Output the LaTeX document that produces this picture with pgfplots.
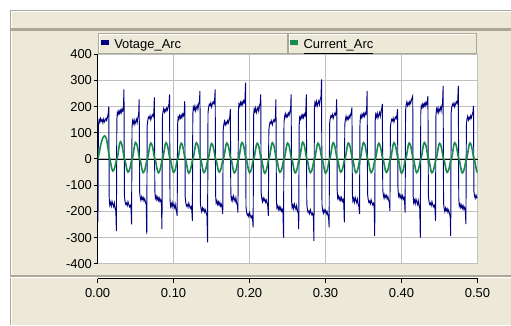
\documentclass[border=0pt]{standalone}
\usepackage{fontspec}
\setmainfont{Liberation Sans}
\usepackage{pgfplots}
\pgfplotsset{compat=1.18}
\definecolor{panel}{HTML}{ECE9D8}
\definecolor{edge}{HTML}{ACA899}
\definecolor{vcol}{HTML}{000080}
\definecolor{icol}{HTML}{178C4C}
\definecolor{gridc}{HTML}{C0C0C0}
\newcommand{\tickfont}{\fontsize{13}{13}\selectfont}
\newcommand{\legfont}{\fontsize{13}{13}\selectfont}
\begin{document}
\begin{tikzpicture}
% background panels
\fill[white] (-97.7bp,-61bp) rectangle (413.3bp,264bp);
\fill[panel] (-87.7bp,-61bp) rectangle (413.3bp,254bp);
\draw[edge, line width=1bp] (-87.2bp,-61bp) -- (-87.2bp,253.5bp) -- (413.3bp,253.5bp);
\draw[white, line width=1bp] (-86.2bp,-61bp) -- (-86.2bp,252.5bp) -- (413.3bp,252.5bp);
\fill[edge] (-87.7bp,233bp) rectangle (413.3bp,235.5bp);
\fill[edge] (-87.7bp,-11bp) rectangle (413.3bp,-13.5bp);
\draw[white, line width=0.8bp] (-87.7bp,-14bp) -- (413.3bp,-14bp);
% legend boxes
\fill[panel] (1bp,210.7bp) rectangle (189.6bp,230.7bp);
\draw[edge, line width=1bp] (1bp,210.7bp) rectangle (189.6bp,230.7bp);
\draw[white, line width=0.8bp] (2bp,211.7bp) -- (2bp,229.7bp) -- (188.6bp,229.7bp);
\fill[panel] (190.6bp,210.7bp) rectangle (379bp,230.7bp);
\draw[edge, line width=1bp] (190.6bp,210.7bp) rectangle (379bp,230.7bp);
\draw[white, line width=0.8bp] (191.6bp,211.7bp) -- (191.6bp,229.7bp) -- (378bp,229.7bp);
\fill[vcol] (3.5bp,218.5bp) rectangle (11.5bp,224bp);
\fill[icol] (193bp,218.5bp) rectangle (201bp,224bp);
\node[anchor=base west, inner sep=0pt, font=\legfont] at (16.5bp,215bp) {Votage\_Arc};
\node[anchor=base west, inner sep=0pt, font=\legfont] at (206bp,215bp) {\underline{Current\_Arc}};
% main axis
\begin{axis}[
  scale only axis, width=380.3bp, height=209.7bp,
  xmin=0, xmax=0.5, ymin=-400, ymax=400,
  axis background/.style={fill=white},
  axis lines=left,
  axis line style={-},
  x axis line style={draw=none},
  y axis line style={black, line width=1.5bp},
  xtick={0,0.1,0.2,0.3,0.4,0.5}, xticklabels={},
  xtick style={draw=none},
  ytick={-400,-300,-200,-100,0,100,200,300,400},
  yticklabels={-400,-300,-200,-100,0,100,200,300,400},
  ytick style={black, line width=1bp},
  tick align=outside, major tick length=4bp,
  yticklabel style={font=\tickfont, anchor=east, inner sep=0pt, xshift=-1.5bp},
  grid=major, major grid style={gridc, line width=1.2bp},
  extra y ticks={0}, extra y tick labels={},
  extra y tick style={grid=major, major grid style={black, line width=0.9bp}, ytick style={draw=none}},
  clip=true,
]
\addplot[vcol, line width=0.95bp] coordinates {
(0,0) (0.0005,-240) (0.001,130) (0.002,150) (0.003,140) (0.004,155) (0.005,145) (0.006,150) (0.007,138) (0.008,152) (0.009,142) (0.010,148) (0.011,155) (0.012,147) (0.013,160) (0.014,175) (0.0147,200)
(0.0153,-150) (0.016,-176) (0.017,-166) (0.018,-180) (0.019,-162) (0.020,-173) (0.021,-182) (0.022,-168) (0.023,-188) (0.024,-198) (0.0247,-275)
(0.0253,148) (0.026,178) (0.027,170) (0.028,184) (0.029,174) (0.030,186) (0.031,176) (0.032,190) (0.033,183) (0.034,198) (0.0347,266)
(0.0353,-140) (0.036,-160) (0.037,-173) (0.038,-168) (0.039,-178) (0.040,-163) (0.041,-174) (0.042,-182) (0.043,-176) (0.044,-190) (0.0447,-250)
(0.0453,120) (0.046,146) (0.047,136) (0.048,150) (0.049,132) (0.050,143) (0.051,152) (0.052,138) (0.053,158) (0.054,168) (0.0547,228)
(0.0553,-125) (0.056,-145) (0.057,-158) (0.058,-144) (0.059,-154) (0.060,-147) (0.061,-160) (0.062,-152) (0.063,-165) (0.064,-175) (0.0647,-287)
(0.0653,127) (0.066,147) (0.067,160) (0.068,155) (0.069,165) (0.070,150) (0.071,161) (0.072,169) (0.073,163) (0.074,177) (0.0747,235)
(0.0753,-120) (0.076,-150) (0.077,-142) (0.078,-156) (0.079,-146) (0.080,-158) (0.081,-148) (0.082,-162) (0.083,-155) (0.084,-170) (0.0847,-268)
(0.0853,160) (0.086,180) (0.087,193) (0.088,179) (0.089,189) (0.090,182) (0.091,195) (0.092,187) (0.093,200) (0.094,210) (0.0947,247)
(0.0953,-154) (0.096,-180) (0.097,-170) (0.098,-184) (0.099,-166) (0.100,-177) (0.101,-186) (0.102,-172) (0.103,-192) (0.104,-202) (0.1047,-217)
(0.1053,130) (0.106,160) (0.107,152) (0.108,166) (0.109,156) (0.110,168) (0.111,158) (0.112,172) (0.113,165) (0.114,180) (0.1147,221)
(0.1153,-146) (0.116,-166) (0.117,-179) (0.118,-174) (0.119,-184) (0.120,-169) (0.121,-180) (0.122,-188) (0.123,-182) (0.124,-196) (0.1247,-236)
(0.1253,172) (0.126,198) (0.127,188) (0.128,202) (0.129,184) (0.130,195) (0.131,204) (0.132,190) (0.133,210) (0.134,220) (0.1347,259)
(0.1353,-168) (0.136,-188) (0.137,-201) (0.138,-187) (0.139,-197) (0.140,-190) (0.141,-203) (0.142,-195) (0.143,-208) (0.144,-218) (0.1447,-318)
(0.1453,176) (0.146,196) (0.147,209) (0.148,204) (0.149,214) (0.150,199) (0.151,210) (0.152,218) (0.153,212) (0.154,226) (0.1547,266)
(0.1553,-138) (0.156,-168) (0.157,-160) (0.158,-174) (0.159,-164) (0.160,-176) (0.161,-166) (0.162,-180) (0.163,-173) (0.164,-188) (0.1647,-210)
(0.1653,111) (0.166,131) (0.167,144) (0.168,130) (0.169,140) (0.170,133) (0.171,146) (0.172,138) (0.173,151) (0.174,161) (0.1747,190)
(0.1753,-130) (0.176,-156) (0.177,-146) (0.178,-160) (0.179,-142) (0.180,-153) (0.181,-162) (0.182,-148) (0.183,-168) (0.184,-178) (0.1847,-205)
(0.1853,180) (0.186,210) (0.187,202) (0.188,216) (0.189,206) (0.190,218) (0.191,208) (0.192,222) (0.193,215) (0.194,230) (0.1947,292)
(0.1953,-182) (0.196,-202) (0.197,-215) (0.198,-210) (0.199,-220) (0.200,-205) (0.201,-216) (0.202,-224) (0.203,-218) (0.204,-232) (0.2047,-261)
(0.2053,165) (0.206,191) (0.207,181) (0.208,195) (0.209,177) (0.210,188) (0.211,197) (0.212,183) (0.213,203) (0.214,213) (0.2147,247)
(0.2153,-130) (0.216,-150) (0.217,-163) (0.218,-149) (0.219,-159) (0.220,-152) (0.221,-165) (0.222,-157) (0.223,-170) (0.224,-180) (0.2247,-217)
(0.2253,108) (0.226,128) (0.227,141) (0.228,136) (0.229,146) (0.230,131) (0.231,142) (0.232,150) (0.233,144) (0.234,158) (0.2347,228)
(0.2353,-157) (0.236,-187) (0.237,-179) (0.238,-193) (0.239,-183) (0.240,-195) (0.241,-185) (0.242,-199) (0.243,-192) (0.244,-207) (0.2447,-300)
(0.2453,140) (0.246,160) (0.247,173) (0.248,159) (0.249,169) (0.250,162) (0.251,175) (0.252,167) (0.253,180) (0.254,190) (0.2547,247)
(0.2553,-160) (0.256,-186) (0.257,-176) (0.258,-190) (0.259,-172) (0.260,-183) (0.261,-192) (0.262,-178) (0.263,-198) (0.264,-208) (0.2647,-268)
(0.2653,130) (0.266,160) (0.267,152) (0.268,166) (0.269,156) (0.270,168) (0.271,158) (0.272,172) (0.273,165) (0.274,180) (0.2747,247)
(0.2753,-171) (0.276,-191) (0.277,-204) (0.278,-199) (0.279,-209) (0.280,-194) (0.281,-205) (0.282,-213) (0.283,-207) (0.284,-221) (0.2847,-313)
(0.2853,190) (0.286,216) (0.287,206) (0.288,220) (0.289,202) (0.290,213) (0.291,222) (0.292,208) (0.293,228) (0.294,238) (0.2947,304)
(0.2953,-174) (0.296,-194) (0.297,-207) (0.298,-193) (0.299,-203) (0.300,-196) (0.301,-209) (0.302,-201) (0.303,-214) (0.304,-224) (0.3047,-261)
(0.3053,132) (0.306,152) (0.307,165) (0.308,160) (0.309,170) (0.310,155) (0.311,166) (0.312,174) (0.313,168) (0.314,182) (0.3147,228)
(0.3153,-120) (0.316,-150) (0.317,-142) (0.318,-156) (0.319,-146) (0.320,-158) (0.321,-148) (0.322,-162) (0.323,-155) (0.324,-170) (0.3247,-242)
(0.3253,130) (0.326,150) (0.327,163) (0.328,149) (0.329,159) (0.330,152) (0.331,165) (0.332,157) (0.333,170) (0.334,180) (0.3347,197)
(0.3353,-135) (0.336,-161) (0.337,-151) (0.338,-165) (0.339,-147) (0.340,-158) (0.341,-167) (0.342,-153) (0.343,-173) (0.344,-183) (0.3447,-210)
(0.3453,135) (0.346,165) (0.347,157) (0.348,171) (0.349,161) (0.350,173) (0.351,163) (0.352,177) (0.353,170) (0.354,185) (0.3547,259)
(0.3553,-133) (0.356,-153) (0.357,-166) (0.358,-161) (0.359,-171) (0.360,-156) (0.361,-167) (0.362,-175) (0.363,-169) (0.364,-183) (0.3647,-294)
(0.3653,145) (0.366,171) (0.367,161) (0.368,175) (0.369,157) (0.370,168) (0.371,177) (0.372,163) (0.373,183) (0.374,193) (0.3747,210)
(0.3753,-117) (0.376,-137) (0.377,-150) (0.378,-136) (0.379,-146) (0.380,-139) (0.381,-152) (0.382,-144) (0.383,-157) (0.384,-167) (0.3847,-198)
(0.3853,118) (0.386,138) (0.387,151) (0.388,146) (0.389,156) (0.390,141) (0.391,152) (0.392,160) (0.393,154) (0.394,168) (0.3947,190)
(0.3953,-112) (0.396,-142) (0.397,-134) (0.398,-148) (0.399,-138) (0.400,-150) (0.401,-140) (0.402,-154) (0.403,-147) (0.404,-162) (0.4047,-205)
(0.4053,185) (0.406,205) (0.407,218) (0.408,204) (0.409,214) (0.410,207) (0.411,220) (0.412,212) (0.413,225) (0.414,235) (0.4147,241)
(0.4153,-141) (0.416,-167) (0.417,-157) (0.418,-171) (0.419,-153) (0.420,-164) (0.421,-173) (0.422,-159) (0.423,-179) (0.424,-189) (0.4247,-300)
(0.4253,174) (0.426,204) (0.427,196) (0.428,210) (0.429,200) (0.430,212) (0.431,202) (0.432,216) (0.433,209) (0.434,224) (0.4347,240)
(0.4353,-140) (0.436,-160) (0.437,-173) (0.438,-168) (0.439,-178) (0.440,-163) (0.441,-174) (0.442,-182) (0.443,-176) (0.444,-190) (0.4447,-236)
(0.4453,165) (0.446,191) (0.447,181) (0.448,195) (0.449,177) (0.450,188) (0.451,197) (0.452,183) (0.453,203) (0.454,213) (0.4547,279)
(0.4553,-168) (0.456,-188) (0.457,-201) (0.458,-187) (0.459,-197) (0.460,-190) (0.461,-203) (0.462,-195) (0.463,-208) (0.464,-218) (0.4647,-294)
(0.4653,176) (0.466,196) (0.467,209) (0.468,204) (0.469,214) (0.470,199) (0.471,210) (0.472,218) (0.473,212) (0.474,226) (0.4747,279)
(0.4753,-150) (0.476,-180) (0.477,-172) (0.478,-186) (0.479,-176) (0.480,-188) (0.481,-178) (0.482,-192) (0.483,-185) (0.484,-200) (0.4847,-249)
(0.4853,130) (0.486,150) (0.487,163) (0.488,149) (0.489,159) (0.490,152) (0.491,165) (0.492,157) (0.493,170) (0.494,180) (0.4947,203)
(0.4953,-125) (0.496,-140) (0.497,-150) (0.498,-138) (0.499,-148) (0.500,-145)
};
\addplot[icol, line width=1.6bp] coordinates {
(0.000,0) (0.001,8) (0.002,22) (0.003,38) (0.004,52) (0.005,64) (0.006,74) (0.007,81) (0.008,86) (0.009,88) (0.010,87) (0.011,82) (0.012,72) (0.013,56) (0.014,36) (0.015,14) (0.016,2) (0.017,-12) (0.018,-28) (0.019,-40)
(0.020,-46) (0.021,-44) (0.022,-38) (0.023,-28) (0.024,-14) (0.025,-2) (0.026,4) (0.027,22) (0.028,42) (0.029,59) (0.030,66) (0.031,63) (0.032,54) (0.033,40) (0.034,20) (0.035,3) (0.036,-3) (0.037,-17) (0.038,-33) (0.039,-45)
(0.040,-50) (0.041,-48) (0.042,-41) (0.043,-30) (0.044,-15) (0.045,-2) (0.046,4) (0.047,21) (0.048,40) (0.049,57) (0.050,63) (0.051,60) (0.052,52) (0.053,38) (0.054,19) (0.055,3) (0.056,-3) (0.057,-17) (0.058,-34) (0.059,-47)
(0.060,-52) (0.061,-49) (0.062,-43) (0.063,-31) (0.064,-16) (0.065,-2) (0.066,4) (0.067,20) (0.068,38) (0.069,55) (0.070,61) (0.071,58) (0.072,50) (0.073,37) (0.074,18) (0.075,3) (0.076,-3) (0.077,-17) (0.078,-34) (0.079,-48)
(0.080,-53) (0.081,-50) (0.082,-43) (0.083,-32) (0.084,-16) (0.085,-2) (0.086,4) (0.087,20) (0.088,39) (0.089,56) (0.090,62) (0.091,59) (0.092,51) (0.093,37) (0.094,19) (0.095,3) (0.096,-3) (0.097,-17) (0.098,-33) (0.099,-46)
(0.100,-51) (0.101,-48) (0.102,-42) (0.103,-31) (0.104,-15) (0.105,-2) (0.106,4) (0.107,20) (0.108,38) (0.109,54) (0.110,60) (0.111,57) (0.112,49) (0.113,36) (0.114,18) (0.115,3) (0.116,-3) (0.117,-18) (0.118,-35) (0.119,-49)
(0.120,-54) (0.121,-51) (0.122,-44) (0.123,-32) (0.124,-16) (0.125,-2) (0.126,4) (0.127,20) (0.128,39) (0.129,56) (0.130,62) (0.131,59) (0.132,51) (0.133,37) (0.134,19) (0.135,3) (0.136,-3) (0.137,-17) (0.138,-34) (0.139,-47)
(0.140,-52) (0.141,-49) (0.142,-43) (0.143,-31) (0.144,-16) (0.145,-2) (0.146,4) (0.147,19) (0.148,37) (0.149,53) (0.150,59) (0.151,56) (0.152,48) (0.153,35) (0.154,18) (0.155,3) (0.156,-3) (0.157,-17) (0.158,-33) (0.159,-45)
(0.160,-50) (0.161,-48) (0.162,-41) (0.163,-30) (0.164,-15) (0.165,-2) (0.166,4) (0.167,20) (0.168,38) (0.169,55) (0.170,61) (0.171,58) (0.172,50) (0.173,37) (0.174,18) (0.175,3) (0.176,-3) (0.177,-17) (0.178,-34) (0.179,-48)
(0.180,-53) (0.181,-50) (0.182,-43) (0.183,-32) (0.184,-16) (0.185,-2) (0.186,4) (0.187,21) (0.188,40) (0.189,57) (0.190,63) (0.191,60) (0.192,52) (0.193,38) (0.194,19) (0.195,3) (0.196,-3) (0.197,-17) (0.198,-34) (0.199,-47)
(0.200,-52) (0.201,-49) (0.202,-43) (0.203,-31) (0.204,-16) (0.205,-2) (0.206,4) (0.207,20) (0.208,38) (0.209,54) (0.210,60) (0.211,57) (0.212,49) (0.213,36) (0.214,18) (0.215,3) (0.216,-3) (0.217,-18) (0.218,-35) (0.219,-49)
(0.220,-54) (0.221,-51) (0.222,-44) (0.223,-32) (0.224,-16) (0.225,-2) (0.226,4) (0.227,20) (0.228,39) (0.229,56) (0.230,62) (0.231,59) (0.232,51) (0.233,37) (0.234,19) (0.235,3) (0.236,-3) (0.237,-17) (0.238,-33) (0.239,-46)
(0.240,-51) (0.241,-48) (0.242,-42) (0.243,-31) (0.244,-15) (0.245,-2) (0.246,4) (0.247,20) (0.248,38) (0.249,55) (0.250,61) (0.251,58) (0.252,50) (0.253,37) (0.254,18) (0.255,3) (0.256,-3) (0.257,-17) (0.258,-34) (0.259,-48)
(0.260,-53) (0.261,-50) (0.262,-43) (0.263,-32) (0.264,-16) (0.265,-2) (0.266,4) (0.267,21) (0.268,40) (0.269,58) (0.270,64) (0.271,61) (0.272,52) (0.273,38) (0.274,19) (0.275,3) (0.276,-3) (0.277,-17) (0.278,-34) (0.279,-47)
(0.280,-52) (0.281,-49) (0.282,-43) (0.283,-31) (0.284,-16) (0.285,-2) (0.286,4) (0.287,20) (0.288,38) (0.289,54) (0.290,60) (0.291,57) (0.292,49) (0.293,36) (0.294,18) (0.295,3) (0.296,-3) (0.297,-18) (0.298,-35) (0.299,-49)
(0.300,-54) (0.301,-51) (0.302,-44) (0.303,-32) (0.304,-16) (0.305,-2) (0.306,4) (0.307,20) (0.308,39) (0.309,56) (0.310,62) (0.311,59) (0.312,51) (0.313,37) (0.314,19) (0.315,3) (0.316,-3) (0.317,-17) (0.318,-33) (0.319,-45)
(0.320,-50) (0.321,-48) (0.322,-41) (0.323,-30) (0.324,-15) (0.325,-2) (0.326,4) (0.327,20) (0.328,38) (0.329,55) (0.330,61) (0.331,58) (0.332,50) (0.333,37) (0.334,18) (0.335,3) (0.336,-3) (0.337,-17) (0.338,-34) (0.339,-48)
(0.340,-53) (0.341,-50) (0.342,-43) (0.343,-32) (0.344,-16) (0.345,-2) (0.346,4) (0.347,21) (0.348,40) (0.349,57) (0.350,63) (0.351,60) (0.352,52) (0.353,38) (0.354,19) (0.355,3) (0.356,-3) (0.357,-17) (0.358,-34) (0.359,-47)
(0.360,-52) (0.361,-49) (0.362,-43) (0.363,-31) (0.364,-16) (0.365,-2) (0.366,4) (0.367,20) (0.368,38) (0.369,54) (0.370,60) (0.371,57) (0.372,49) (0.373,36) (0.374,18) (0.375,3) (0.376,-3) (0.377,-17) (0.378,-33) (0.379,-46)
(0.380,-51) (0.381,-48) (0.382,-42) (0.383,-31) (0.384,-15) (0.385,-2) (0.386,4) (0.387,20) (0.388,39) (0.389,56) (0.390,62) (0.391,59) (0.392,51) (0.393,37) (0.394,19) (0.395,3) (0.396,-3) (0.397,-18) (0.398,-35) (0.399,-49)
(0.400,-54) (0.401,-51) (0.402,-44) (0.403,-32) (0.404,-16) (0.405,-2) (0.406,4) (0.407,20) (0.408,38) (0.409,55) (0.410,61) (0.411,58) (0.412,50) (0.413,37) (0.414,18) (0.415,3) (0.416,-3) (0.417,-17) (0.418,-34) (0.419,-47)
(0.420,-52) (0.421,-49) (0.422,-43) (0.423,-31) (0.424,-16) (0.425,-2) (0.426,4) (0.427,21) (0.428,40) (0.429,57) (0.430,63) (0.431,60) (0.432,52) (0.433,38) (0.434,19) (0.435,3) (0.436,-3) (0.437,-17) (0.438,-34) (0.439,-48)
(0.440,-53) (0.441,-50) (0.442,-43) (0.443,-32) (0.444,-16) (0.445,-2) (0.446,4) (0.447,20) (0.448,38) (0.449,54) (0.450,60) (0.451,57) (0.452,49) (0.453,36) (0.454,18) (0.455,3) (0.456,-3) (0.457,-17) (0.458,-33) (0.459,-46)
(0.460,-51) (0.461,-48) (0.462,-42) (0.463,-31) (0.464,-15) (0.465,-2) (0.466,4) (0.467,20) (0.468,39) (0.469,56) (0.470,62) (0.471,59) (0.472,51) (0.473,37) (0.474,19) (0.475,3) (0.476,-3) (0.477,-17) (0.478,-34) (0.479,-48)
(0.480,-53) (0.481,-50) (0.482,-43) (0.483,-32) (0.484,-16) (0.485,-2) (0.486,4) (0.487,20) (0.488,38) (0.489,55) (0.490,61) (0.491,58) (0.492,50) (0.493,37) (0.494,18) (0.495,3) (0.496,-3) (0.497,-17) (0.498,-34) (0.499,-47) (0.500,-52)
};
\end{axis}
% x axis in the lower panel
\begin{axis}[
  at={(0bp,-15bp)}, anchor=south west,
  scale only axis, width=380.3bp, height=4bp,
  xmin=0, xmax=0.5, ymin=0, ymax=1,
  hide y axis,
  axis x line=bottom,
  axis line style={-, black, line width=1.3bp},
  xtick={0,0.1,0.2,0.3,0.4,0.5},
  xticklabels={0.00,0.10,0.20,0.30,0.40,0.50},
  xtick style={black, line width=1bp},
  tick align=outside, major tick length=4.5bp,
  xticklabel style={font=\tickfont, anchor=north, inner sep=0pt, yshift=-5bp},
]
\end{axis}
\end{tikzpicture}
\end{document}
